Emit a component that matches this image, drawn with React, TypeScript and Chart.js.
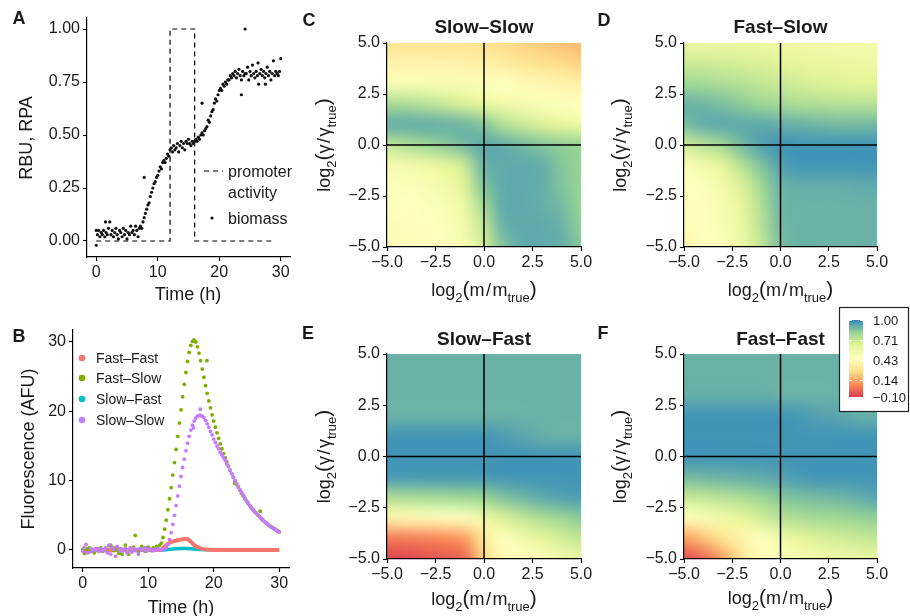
import React, { useEffect, useRef } from 'react';
import { Chart, registerables } from 'chart.js';
Chart.register(...registerables);

const FONT = '"Liberation Sans", Arial, Helvetica, sans-serif';
const TXT = '#1a1a1a';

// ---------------- Panel A: biomass & promoter activity ----------------
const A_STEP = 0.2; // sampling interval (h)
const biomass = [
  0.05, 0.03, 0.05, 0.02, 0.04, 0.03, 0.05, 0.02, 0.04, 0.03,
  0.06, 0.09, 0.03, 0.05, 0.02, 0.04, 0.06, 0.03, 0.01, 0.05,
  0.04, 0.02, 0.06, 0.03, 0.05, 0.01, 0.04, 0.03, 0.07, 0.04,
  0.05, 0.03, 0.07, 0.05, 0.02, 0.06, 0.07, 0.06, 0.09, 0.11,
  0.13, 0.15, 0.17, 0.18, 0.21, 0.23, 0.25, 0.27, 0.28, 0.30,
  0.31, 0.33, 0.35, 0.34, 0.37, 0.38, 0.37, 0.39, 0.41, 0.40,
  0.43, 0.44, 0.42, 0.45, 0.43, 0.44, 0.46, 0.42, 0.45, 0.47,
  0.44, 0.46, 0.43, 0.47, 0.46, 0.48, 0.46, 0.45, 0.47, 0.46,
  0.47, 0.48, 0.47, 0.49, 0.48, 0.50, 0.51, 0.50, 0.52, 0.53,
  0.54, 0.57, 0.56, 0.59, 0.61, 0.62, 0.65, 0.67, 0.66, 0.69,
  0.71, 0.72, 0.71, 0.74, 0.73, 0.75, 0.74, 0.76, 0.76, 0.78,
  0.77, 0.79, 0.78, 0.80, 0.77, 0.79, 0.81, 0.78, 0.76, 0.80,
  0.78, 0.79, 0.79, 0.82, 0.76, 0.80, 0.78, 0.83, 0.79, 0.77,
  0.80, 0.78, 0.74, 0.79, 0.81, 0.78, 0.80, 0.77, 0.79, 0.82,
  0.78, 0.80, 0.76, 0.79, 0.85, 0.78, 0.80, 0.79, 0.78, 0.80,
  0.86,
];
const biomassExtraT = [0.0, 1.5, 7.8, 17.2, 23.6, 24.2, 26.3, 27.5];
const biomassExtraV = [-0.02, 0.09, 0.30, 0.65, 0.69, 1.0, 0.84, 0.74];
const promoterT = [0, 12, 12, 16, 16, 29];
const promoterV = [0, 0, 1, 1, 0, 0];
const A_XTICKS = [0, 10, 20, 30];
const A_YTICKS = [0, 0.25, 0.5, 0.75, 1];

// ---------------- Panel B: fluorescence ----------------
const B_STEP = 0.25;
const fastSlow = [
  0.1, -0.5, 0.2, 0.0, 0.3, -0.2, 0.1, -0.4,
  0.2, -0.1, 0.0, 0.3, -0.2, 0.1, 0.2, -0.3,
  0.6, 0.7, 0.4, -0.1, 0.3, 0.0, -0.5, 0.2,
  -0.6, 0.1, 0.7, -0.3, -0.6, 0.2, -0.2, 0.4,
  2.1, 0.0, -0.3, 0.2, 0.5, 0.1, -0.2, 0.3,
  0.4, 0.1, -0.1, 0.3, 0.3, 0.5, 0.2, 0.7,
  1.0, 1.8, 3.0, 4.3, 5.8, 7.4, 9.0, 10.8,
  12.6, 14.5, 16.4, 18.3, 20.2, 22.1, 23.9, 25.6,
  27.2, 28.5, 29.5, 30.1, 30.3, 30.0, 29.3, 28.4,
  27.3, 26.1, 24.9, 23.7, 22.6, 21.5, 20.5, 19.5,
  18.6, 17.7, 16.9, 16.1, 15.3, 14.6, 13.9, 13.3,
  12.7, 12.1, 11.5, 11.0, 10.5, 10.0, 9.5, 9.1,
  8.6, 8.2, 7.8, 7.4, 7.1, 6.7, 6.4, 6.1,
  5.8, 5.5, 5.3, 5.0, 4.8, 4.5, 4.3, 4.1,
  3.9, 3.7, 3.5, 3.4, 3.2, 3.1, 2.9, 2.8,
  2.6,
];
const slowSlow = [
  -0.2, 0.3, 0.8, -0.4, -0.3, 0.2, -0.1, 0.1,
  0.0, 0.2, -0.2, 0.1, 0.0, -0.1, 0.3, -0.4,
  0.7, -0.6, 0.3, 0.1, -0.9, 0.5, 0.2, -0.2,
  0.1, -0.1, 0.2, -0.4, 0.0, 0.3, -0.3, 0.2,
  -0.1, 0.1, -0.6, 0.2, 0.0, 0.1, 0.3, -0.2,
  0.2, 0.0, 0.1, -0.1, 0.0, 0.2, 0.1, 0.0,
  0.1, 0.0, 0.2, 0.4, 0.8, 1.5, 2.5, 3.7,
  5.0, 6.4, 7.8, 9.2, 10.6, 11.9, 13.1, 14.3,
  15.4, 16.4, 17.3, 18.0, 18.6, 19.0, 19.3, 19.4,
  19.4, 19.3, 19.1, 18.7, 18.2, 17.7, 17.1, 16.6,
  16.0, 15.5, 15.0, 14.6, 14.1, 13.7, 13.3, 12.9,
  12.4, 12.0, 11.5, 11.0, 10.5, 10.0, 9.6, 9.1,
  8.7, 8.3, 7.9, 7.5, 7.1, 6.8, 6.4, 6.1,
  5.8, 5.6, 5.3, 5.1, 4.8, 4.6, 4.3, 4.1,
  3.9, 3.7, 3.5, 3.3, 3.2, 3.0, 2.9, 2.7,
  2.6,
];
const fastSlowExtraT = [18.95, 23.2, 27.1];
const fastSlowExtraV = [27.3, 9.6, 5.6];
const slowSlowExtraT = [17.95, 16.9];
const slowSlowExtraV = [20.3, 17.6];
const fastFastT = [0, 12, 12.5, 13, 13.5, 14, 14.5, 15, 15.5, 16, 16.5, 17, 17.5, 18, 18.5, 19, 20, 30];
const fastFastV = [0, 0, 0.5, 0.9, 1.15, 1.3, 1.4, 1.5, 1.55, 1.6, 1.2, 0.7, 0.4, 0.22, 0.12, 0.06, 0.01, 0];
const slowFastT = [0, 12.5, 13, 13.5, 14, 15, 16, 17, 17.5, 18, 19, 20, 30];
const slowFastV = [0, 0, 0.06, 0.12, 0.16, 0.2, 0.2, 0.14, 0.1, 0.06, 0.02, 0, 0];
const B_XTICKS = [0, 10, 20, 30];
const B_YTICKS = [0, 10, 20, 30];
const B_NAMES = ['Fast\u2013Fast', 'Fast\u2013Slow', 'Slow\u2013Fast', 'Slow\u2013Slow'];
const B_COLORS = ['#F8766D', '#7CAE00', '#00BFC4', '#C77CFF'];

// ---------------- Heatmaps (rows: log2 gamma from 5 to -5; cols: log2 m from -5 to 5) ----------------
const LOG2_M = [-5, -4, -3, -2, -1, 0, 1, 2, 3, 4, 5];
const LOG2_GAMMA = [5, 4, 3, 2, 1, 0, -1, -2, -3, -4, -5];
const HEAT_TICKS = [-5, -2.5, 0, 2.5, 5];

const gridSlowSlow = [
  [0.30, 0.30, 0.30, 0.30, 0.29, 0.28, 0.26, 0.24, 0.22, 0.20, 0.18],
  [0.38, 0.38, 0.38, 0.38, 0.37, 0.36, 0.34, 0.31, 0.28, 0.26, 0.24],
  [0.50, 0.50, 0.50, 0.50, 0.50, 0.48, 0.45, 0.42, 0.40, 0.38, 0.36],
  [0.78, 0.77, 0.74, 0.70, 0.66, 0.62, 0.56, 0.52, 0.49, 0.47, 0.45],
  [0.91, 0.91, 0.91, 0.90, 0.89, 0.85, 0.76, 0.70, 0.66, 0.62, 0.58],
  [0.72, 0.76, 0.80, 0.84, 0.88, 0.92, 0.91, 0.88, 0.85, 0.83, 0.82],
  [0.52, 0.54, 0.57, 0.62, 0.70, 0.90, 0.92, 0.92, 0.91, 0.85, 0.82],
  [0.47, 0.48, 0.50, 0.55, 0.65, 0.86, 0.92, 0.92, 0.91, 0.86, 0.82],
  [0.45, 0.45, 0.47, 0.50, 0.58, 0.80, 0.92, 0.92, 0.91, 0.88, 0.82],
  [0.43, 0.44, 0.46, 0.48, 0.55, 0.72, 0.90, 0.92, 0.92, 0.90, 0.83],
  [0.42, 0.43, 0.45, 0.47, 0.52, 0.68, 0.86, 0.92, 0.92, 0.91, 0.85],
];
const gridFastSlow = [
  [0.58, 0.58, 0.58, 0.58, 0.58, 0.57, 0.56, 0.55, 0.55, 0.54, 0.54],
  [0.70, 0.69, 0.68, 0.67, 0.66, 0.64, 0.62, 0.60, 0.59, 0.58, 0.58],
  [0.80, 0.79, 0.77, 0.75, 0.72, 0.70, 0.68, 0.66, 0.65, 0.64, 0.64],
  [0.90, 0.89, 0.87, 0.84, 0.81, 0.79, 0.77, 0.76, 0.75, 0.75, 0.75],
  [0.87, 0.91, 0.92, 0.92, 0.92, 0.91, 0.90, 0.89, 0.88, 0.88, 0.88],
  [0.68, 0.74, 0.80, 0.88, 0.94, 0.97, 0.97, 0.97, 0.97, 0.97, 0.97],
  [0.50, 0.55, 0.63, 0.75, 0.86, 0.94, 0.97, 0.97, 0.97, 0.97, 0.97],
  [0.46, 0.48, 0.55, 0.66, 0.80, 0.90, 0.91, 0.91, 0.91, 0.92, 0.92],
  [0.44, 0.46, 0.52, 0.62, 0.76, 0.89, 0.90, 0.90, 0.90, 0.90, 0.90],
  [0.42, 0.45, 0.50, 0.60, 0.74, 0.88, 0.90, 0.90, 0.90, 0.90, 0.90],
  [0.40, 0.44, 0.49, 0.58, 0.72, 0.87, 0.90, 0.90, 0.90, 0.90, 0.90],
];
const gridSlowFast = [
  [0.90, 0.90, 0.90, 0.90, 0.90, 0.90, 0.90, 0.90, 0.90, 0.90, 0.90],
  [0.90, 0.90, 0.90, 0.90, 0.90, 0.90, 0.90, 0.90, 0.90, 0.90, 0.90],
  [0.90, 0.90, 0.90, 0.90, 0.90, 0.90, 0.90, 0.90, 0.90, 0.90, 0.90],
  [0.90, 0.90, 0.90, 0.90, 0.90, 0.90, 0.90, 0.90, 0.90, 0.90, 0.90],
  [0.97, 0.97, 0.97, 0.97, 0.97, 0.97, 0.95, 0.93, 0.91, 0.90, 0.90],
  [0.97, 0.97, 0.97, 0.97, 0.97, 0.97, 0.97, 0.97, 0.97, 0.97, 0.97],
  [0.96, 0.96, 0.96, 0.96, 0.96, 0.96, 0.97, 0.97, 0.97, 0.97, 0.97],
  [0.76, 0.77, 0.78, 0.79, 0.80, 0.82, 0.86, 0.89, 0.92, 0.94, 0.95],
  [0.38, 0.40, 0.42, 0.44, 0.48, 0.56, 0.66, 0.72, 0.77, 0.81, 0.84],
  [0.04, 0.05, 0.06, 0.08, 0.12, 0.32, 0.47, 0.55, 0.62, 0.68, 0.72],
  [-0.08, -0.07, -0.05, -0.03, 0.0, 0.25, 0.42, 0.46, 0.50, 0.55, 0.60],
];
const gridFastFast = [
  [0.90, 0.90, 0.90, 0.90, 0.90, 0.90, 0.90, 0.90, 0.90, 0.90, 0.90],
  [0.90, 0.90, 0.90, 0.90, 0.90, 0.90, 0.90, 0.90, 0.90, 0.90, 0.90],
  [0.91, 0.91, 0.91, 0.91, 0.91, 0.90, 0.90, 0.90, 0.90, 0.90, 0.90],
  [0.97, 0.97, 0.97, 0.97, 0.97, 0.97, 0.96, 0.94, 0.93, 0.91, 0.90],
  [0.97, 0.97, 0.97, 0.97, 0.97, 0.97, 0.97, 0.97, 0.97, 0.97, 0.97],
  [0.97, 0.97, 0.97, 0.97, 0.97, 0.97, 0.97, 0.97, 0.97, 0.97, 0.97],
  [0.88, 0.89, 0.90, 0.91, 0.92, 0.94, 0.96, 0.97, 0.97, 0.97, 0.97],
  [0.70, 0.72, 0.74, 0.77, 0.81, 0.85, 0.87, 0.88, 0.89, 0.91, 0.93],
  [0.44, 0.50, 0.56, 0.62, 0.68, 0.74, 0.77, 0.79, 0.80, 0.82, 0.83],
  [0.12, 0.20, 0.30, 0.38, 0.46, 0.55, 0.62, 0.66, 0.68, 0.70, 0.72],
  [-0.06, 0.0, 0.12, 0.30, 0.42, 0.49, 0.53, 0.55, 0.57, 0.59, 0.60],
];

const CBAR_MIN = -0.1;
const CBAR_MAX = 1.0;
const CBAR_BREAKS = [1.0, 0.71, 0.43, 0.14, -0.1];
const SPECTRAL = ['#D53E4F', '#FC8D59', '#FEE08B', '#FFFFBF', '#E6F598', '#99D594', '#3288BD'];

// ---------------- helpers ----------------
const hexRgb = (h: string) => [parseInt(h.slice(1, 3), 16), parseInt(h.slice(3, 5), 16), parseInt(h.slice(5, 7), 16)];
const SPEC_RGB = SPECTRAL.map(hexRgb);
function spectral(v: number) {
  let t = (v - CBAR_MIN) / (CBAR_MAX - CBAR_MIN);
  t = Math.max(0, Math.min(1, t));
  const s = t * (SPEC_RGB.length - 1);
  const i = Math.min(Math.floor(s), SPEC_RGB.length - 2);
  const f = s - i;
  const a = SPEC_RGB[i], b = SPEC_RGB[i + 1];
  return [0, 1, 2].map((k) => Math.round(a[k] + (b[k] - a[k]) * f));
}
const minus = (s: string) => s.replace('-', '\u2212');

type Seg = { t: string; size: number; bold?: boolean; sub?: boolean; gap?: number };
type TextItem = { segs: Seg[]; x: number; y: number; rot?: boolean; align?: 'left' | 'center' };

function drawRich(ctx: CanvasRenderingContext2D, item: TextItem) {
  ctx.save();
  ctx.translate(item.x, item.y);
  if (item.rot) ctx.rotate(-Math.PI / 2);
  const fontOf = (s: Seg) => `${s.bold ? 'bold ' : ''}${s.size}px ${FONT}`;
  let total = 0;
  const widths = item.segs.map((s) => {
    ctx.font = fontOf(s);
    const w = ctx.measureText(s.t).width + (s.gap || 0) * 2;
    total += w;
    return w;
  });
  let cx = item.align === 'left' ? 0 : -total / 2;
  const main = item.segs[0].size;
  const base = main * 0.36;
  ctx.fillStyle = TXT;
  ctx.textBaseline = 'alphabetic';
  ctx.textAlign = 'left';
  item.segs.forEach((s, i) => {
    ctx.font = fontOf(s);
    ctx.fillText(s.t, cx + (s.gap || 0), base + (s.sub ? main * 0.3 : 0));
    cx += widths[i];
  });
  ctx.restore();
}
const plain = (t: string, x: number, y: number, size = 18, extra: Partial<TextItem> = {}, bold = false): TextItem => ({
  segs: [{ t, size, bold }], x, y, ...extra,
});
const xTitleLog = (x: number, y: number): TextItem => ({
  x, y,
  segs: [
    { t: 'log', size: 18 }, { t: '2', size: 13, sub: true }, { t: '(', size: 21 },
    { t: 'm', size: 18 }, { t: '/', size: 18, gap: 1.5 }, { t: 'm', size: 18 },
    { t: 'true', size: 13, sub: true }, { t: ')', size: 21 },
  ],
});
const yTitleLog = (x: number, y: number): TextItem => ({
  x, y, rot: true,
  segs: [
    { t: 'log', size: 18 }, { t: '2', size: 13, sub: true }, { t: '(', size: 21 },
    { t: '\u03b3', size: 18 }, { t: '/', size: 18, gap: 1.5 }, { t: '\u03b3', size: 18 },
    { t: 'true', size: 13, sub: true }, { t: ')', size: 21 },
  ],
});

function textPlugin(items: TextItem[], extra?: (chart: any) => void) {
  return {
    id: 'texts',
    afterDraw(chart: any) {
      const ctx = chart.ctx;
      items.forEach((it) => drawRich(ctx, it));
      if (extra) extra(chart);
    },
  };
}

function axis(o: {
  min: number; max: number; ticks: number[]; fmt: (v: number) => string; horizontal: boolean; size: number;
}) {
  return {
    type: 'linear',
    min: o.min,
    max: o.max,
    position: o.horizontal ? 'bottom' : 'left',
    border: { display: true, color: '#000', width: 1.2, z: 1 },
    grid: { display: true, drawOnChartArea: false, drawTicks: true, tickLength: 4, tickColor: '#000', tickWidth: 1.1 },
    ticks: {
      color: TXT, font: { family: FONT, size: 16 }, padding: o.horizontal ? 2 : 3,
      maxRotation: 0, minRotation: 0, autoSkip: false,
      callback: (v: number) => o.fmt(v),
    },
    afterBuildTicks: (s: any) => { s.ticks = o.ticks.map((v) => ({ value: v })); },
    afterFit: (s: any) => { if (o.horizontal) s.height = o.size; else s.width = o.size; },
  };
}

const baseOpts = (padding: any) => ({
  responsive: false,
  animation: false,
  devicePixelRatio: 1,
  layout: { padding },
  plugins: { legend: { display: false }, tooltip: { enabled: false } },
  events: [],
});

// ---------------- chart configs ----------------
function configA() {
  const pts = biomass.map((v, i) => ({ x: i * A_STEP, y: v }))
    .concat(biomassExtraT.map((t, i) => ({ x: t, y: biomassExtraV[i] })));
  const prom = promoterT.map((t, i) => ({ x: t, y: promoterV[i] }));
  const legend = (chart: any) => {
    const ctx = chart.ctx;
    ctx.save();
    ctx.strokeStyle = '#000';
    ctx.lineWidth = 1.2;
    ctx.setLineDash([5, 4]);
    ctx.beginPath(); ctx.moveTo(204, 171); ctx.lineTo(223, 171); ctx.stroke();
    ctx.setLineDash([]);
    ctx.fillStyle = '#111';
    ctx.beginPath(); ctx.arc(212, 218, 1.6, 0, Math.PI * 2); ctx.fill();
    ctx.restore();
  };
  return {
    type: 'scatter',
    data: {
      datasets: [
        { data: prom, showLine: true, borderColor: '#000', borderWidth: 1.2, borderDash: [5, 4], pointRadius: 0, order: 1 },
        { data: pts, pointRadius: 1.6, pointBorderWidth: 0, backgroundColor: '#111', borderColor: '#111', order: 0 },
      ],
    },
    options: {
      ...baseOpts({ top: 18, right: 10, left: 0, bottom: 0 }),
      scales: {
        x: axis({ min: -1.5, max: 31.5, ticks: A_XTICKS, fmt: (v) => String(v), horizontal: true, size: 51 }),
        y: axis({ min: -0.0755, max: 1.052, ticks: A_YTICKS, fmt: (v) => v.toFixed(2), horizontal: false, size: 87 }),
      },
    },
    plugins: [textPlugin([
      plain('A', 19, 18, 18, {}, true),
      plain('Time (h)', 188, 294),
      plain('RBU, RPA', 26, 138, 18, { rot: true }),
      plain('promoter', 228, 171, 16, { align: 'left' }),
      plain('activity', 228, 192, 16, { align: 'left' }),
      plain('biomass', 228, 218, 16, { align: 'left' }),
    ], legend)],
  };
}

function configB() {
  const grid = (arr: number[]) => arr.map((v, i) => ({ x: i * B_STEP, y: v }));
  const pairs = (t: number[], v: number[]) => t.map((x, i) => ({ x, y: v[i] }));
  const legend = (chart: any) => {
    const ctx = chart.ctx;
    const ys = [50, 70, 91, 112];
    ctx.save();
    ys.forEach((y, i) => {
      ctx.fillStyle = B_COLORS[i];
      ctx.beginPath(); ctx.arc(82, y, 3.3, 0, Math.PI * 2); ctx.fill();
      drawRich(ctx, plain(B_NAMES[i], 96, y, 14, { align: 'left' }));
    });
    ctx.restore();
  };
  return {
    type: 'scatter',
    data: {
      datasets: [
        { label: B_NAMES[0], data: pairs(fastFastT, fastFastV), showLine: true, borderColor: B_COLORS[0], borderWidth: 4, pointRadius: 0, order: 2 },
        { label: B_NAMES[1], data: grid(fastSlow).concat(pairs(fastSlowExtraT, fastSlowExtraV)), backgroundColor: B_COLORS[1], borderColor: B_COLORS[1], pointRadius: 1.9, pointBorderWidth: 0, order: 1 },
        { label: B_NAMES[2], data: pairs(slowFastT, slowFastV), showLine: true, borderColor: B_COLORS[2], borderWidth: 3.5, pointRadius: 0, order: 3 },
        { label: B_NAMES[3], data: grid(slowSlow).concat(pairs(slowSlowExtraT, slowSlowExtraV)), backgroundColor: B_COLORS[3], borderColor: B_COLORS[3], pointRadius: 1.9, pointBorderWidth: 0, order: 0 },
      ],
    },
    options: {
      ...baseOpts({ top: 22, right: 11, left: 0, bottom: 0 }),
      scales: {
        x: axis({ min: -1.5, max: 31.5, ticks: B_XTICKS, fmt: (v) => String(v), horizontal: true, size: 48 }),
        y: axis({ min: -2.6, max: 31.73, ticks: B_YTICKS, fmt: (v) => String(v), horizontal: false, size: 73 }),
      },
    },
    plugins: [textPlugin([
      plain('B', 19, 28, 18, {}, true),
      plain('Time (h)', 181, 299),
      plain('Fluorescence (AFU)', 28, 141, 18, { rot: true }),
    ], legend)],
  };
}

function heatPlugin(grid: number[][]) {
  return {
    id: 'heat',
    beforeDatasetsDraw(chart: any) {
      const { ctx, chartArea, scales } = chart;
      const nr = grid.length, nc = grid[0].length;
      const off = document.createElement('canvas');
      off.width = nc; off.height = nr;
      const octx = off.getContext('2d')!;
      const img = octx.createImageData(nc, nr);
      for (let r = 0; r < nr; r++) {
        for (let c = 0; c < nc; c++) {
          const [R, G, B] = spectral(grid[r][c]);
          const k = (r * nc + c) * 4;
          img.data[k] = R; img.data[k + 1] = G; img.data[k + 2] = B; img.data[k + 3] = 255;
        }
      }
      octx.putImageData(img, 0, 0);
      const hx = (LOG2_M[1] - LOG2_M[0]) / 2;
      const hy = (LOG2_GAMMA[0] - LOG2_GAMMA[1]) / 2;
      const left = scales.x.getPixelForValue(LOG2_M[0] - hx);
      const right = scales.x.getPixelForValue(LOG2_M[nc - 1] + hx);
      const top = scales.y.getPixelForValue(LOG2_GAMMA[0] + hy);
      const bottom = scales.y.getPixelForValue(LOG2_GAMMA[nr - 1] - hy);
      ctx.save();
      ctx.beginPath();
      ctx.rect(chartArea.left, chartArea.top, chartArea.right - chartArea.left, chartArea.bottom - chartArea.top);
      ctx.clip();
      ctx.imageSmoothingEnabled = true;
      ctx.imageSmoothingQuality = 'high';
      ctx.drawImage(off, left, top, right - left, bottom - top);
      ctx.restore();
    },
  };
}

function drawColorbar(chart: any) {
  const ctx = chart.ctx;
  const box = { l: 249, t: 7, r: 318, b: 111 };
  const bar = { l: 259, r: 273, t: 20, b: 97 };
  ctx.save();
  ctx.fillStyle = '#fff';
  ctx.fillRect(box.l, box.t, box.r - box.l, box.b - box.t);
  ctx.strokeStyle = '#222';
  ctx.lineWidth = 1.2;
  ctx.strokeRect(box.l + 0.5, box.t + 0.5, box.r - box.l, box.b - box.t);
  const yOf = (v: number) => bar.t + (CBAR_MAX - v) / (CBAR_MAX - CBAR_MIN) * (bar.b - bar.t);
  for (let y = bar.t; y < bar.b; y++) {
    const v = CBAR_MAX - (y + 0.5 - bar.t) / (bar.b - bar.t) * (CBAR_MAX - CBAR_MIN);
    const [R, G, B] = spectral(v);
    ctx.fillStyle = `rgb(${R},${G},${B})`;
    ctx.fillRect(bar.l, y, bar.r - bar.l, 1);
  }
  ctx.strokeStyle = '#fff';
  ctx.lineWidth = 1;
  CBAR_BREAKS.forEach((v) => {
    const y = Math.round(yOf(v)) + 0.5;
    ctx.beginPath();
    ctx.moveTo(bar.l, y); ctx.lineTo(bar.l + 3, y);
    ctx.moveTo(bar.r - 3, y); ctx.lineTo(bar.r, y);
    ctx.stroke();
    drawRich(ctx, plain(minus(v.toFixed(2)), 283, yOf(v), 13, { align: 'left' }));
  });
  ctx.restore();
}

function configHeat(p: {
  grid: number[][]; title: string; letter: string; canvasW: number; canvasH: number;
  left: number; top: number; right: number; bottom: number;
  letterPos: [number, number]; titleY: number; xTitleY: number; yTitleX: number; colorbar?: boolean;
}) {
  const cx = (p.left + p.right) / 2;
  const cy = (p.top + p.bottom) / 2;
  const fmt = (v: number) => minus(v.toFixed(1));
  return {
    type: 'scatter',
    data: {
      datasets: [
        { data: [{ x: LOG2_M[0], y: 0 }, { x: LOG2_M[LOG2_M.length - 1], y: 0 }], showLine: true, borderColor: '#000', borderWidth: 1.5, pointRadius: 0 },
        { data: [{ x: 0, y: LOG2_GAMMA[LOG2_GAMMA.length - 1] }, { x: 0, y: LOG2_GAMMA[0] }], showLine: true, borderColor: '#000', borderWidth: 1.5, pointRadius: 0 },
      ],
    },
    options: {
      ...baseOpts({ top: p.top, right: p.canvasW - p.right, left: 0, bottom: 0 }),
      scales: {
        x: axis({ min: -5, max: 5, ticks: HEAT_TICKS, fmt, horizontal: true, size: p.canvasH - p.bottom }),
        y: axis({ min: -5, max: 5, ticks: HEAT_TICKS, fmt, horizontal: false, size: p.left }),
      },
    },
    plugins: [
      heatPlugin(p.grid),
      textPlugin([
        plain(p.letter, p.letterPos[0], p.letterPos[1], 18, {}, true),
        plain(p.title, cx, p.titleY, 19, {}, true),
        xTitleLog(cx, p.xTitleY),
        yTitleLog(p.yTitleX, cy),
      ], p.colorbar ? drawColorbar : undefined),
    ],
  };
}

const PANELS = [
  { key: 'A', left: 0, top: 0, w: 300, h: 308 },
  { key: 'B', left: 0, top: 308, w: 300, h: 308 },
  { key: 'C', left: 300, top: 0, w: 300, h: 308 },
  { key: 'D', left: 590, top: 0, w: 320, h: 308 },
  { key: 'E', left: 300, top: 308, w: 300, h: 308 },
  { key: 'F', left: 590, top: 300, w: 320, h: 316 },
];

export default function App() {
  const refs = [useRef<HTMLCanvasElement>(null), useRef<HTMLCanvasElement>(null), useRef<HTMLCanvasElement>(null),
    useRef<HTMLCanvasElement>(null), useRef<HTMLCanvasElement>(null), useRef<HTMLCanvasElement>(null)];
  useEffect(() => {
    const cfgs: any[] = [
      configA(),
      configB(),
      configHeat({ grid: gridSlowSlow, title: 'Slow\u2013Slow', letter: 'C', canvasW: 300, canvasH: 308, left: 87, top: 43, right: 281, bottom: 247, letterPos: [9, 20], titleY: 26, xTitleY: 290, yTitleX: 24 }),
      configHeat({ grid: gridFastSlow, title: 'Fast\u2013Slow', letter: 'D', canvasW: 320, canvasH: 308, left: 94, top: 43, right: 287, bottom: 247, letterPos: [14, 20], titleY: 26, xTitleY: 290, yTitleX: 30 }),
      configHeat({ grid: gridSlowFast, title: 'Slow\u2013Fast', letter: 'E', canvasW: 300, canvasH: 308, left: 87, top: 46, right: 281, bottom: 251, letterPos: [8, 25], titleY: 30, xTitleY: 291, yTitleX: 24 }),
      configHeat({ grid: gridFastFast, title: 'Fast\u2013Fast', letter: 'F', canvasW: 320, canvasH: 316, left: 94, top: 54, right: 287, bottom: 259, letterPos: [13, 33], titleY: 38, xTitleY: 298, yTitleX: 30, colorbar: true }),
    ];
    const charts = cfgs.map((c, i) => new Chart(refs[i].current as HTMLCanvasElement, c));
    return () => charts.forEach((c) => c.destroy());
  }, []);
  return (
    <div style={{ position: 'fixed', left: 0, top: 0, width: 910, height: 616, background: '#fff', overflow: 'hidden' }}>
      {PANELS.map((p, i) => (
        <canvas key={p.key} ref={refs[i]} width={p.w} height={p.h}
          style={{ position: 'absolute', left: p.left, top: p.top, width: p.w, height: p.h }} />
      ))}
    </div>
  );
}
